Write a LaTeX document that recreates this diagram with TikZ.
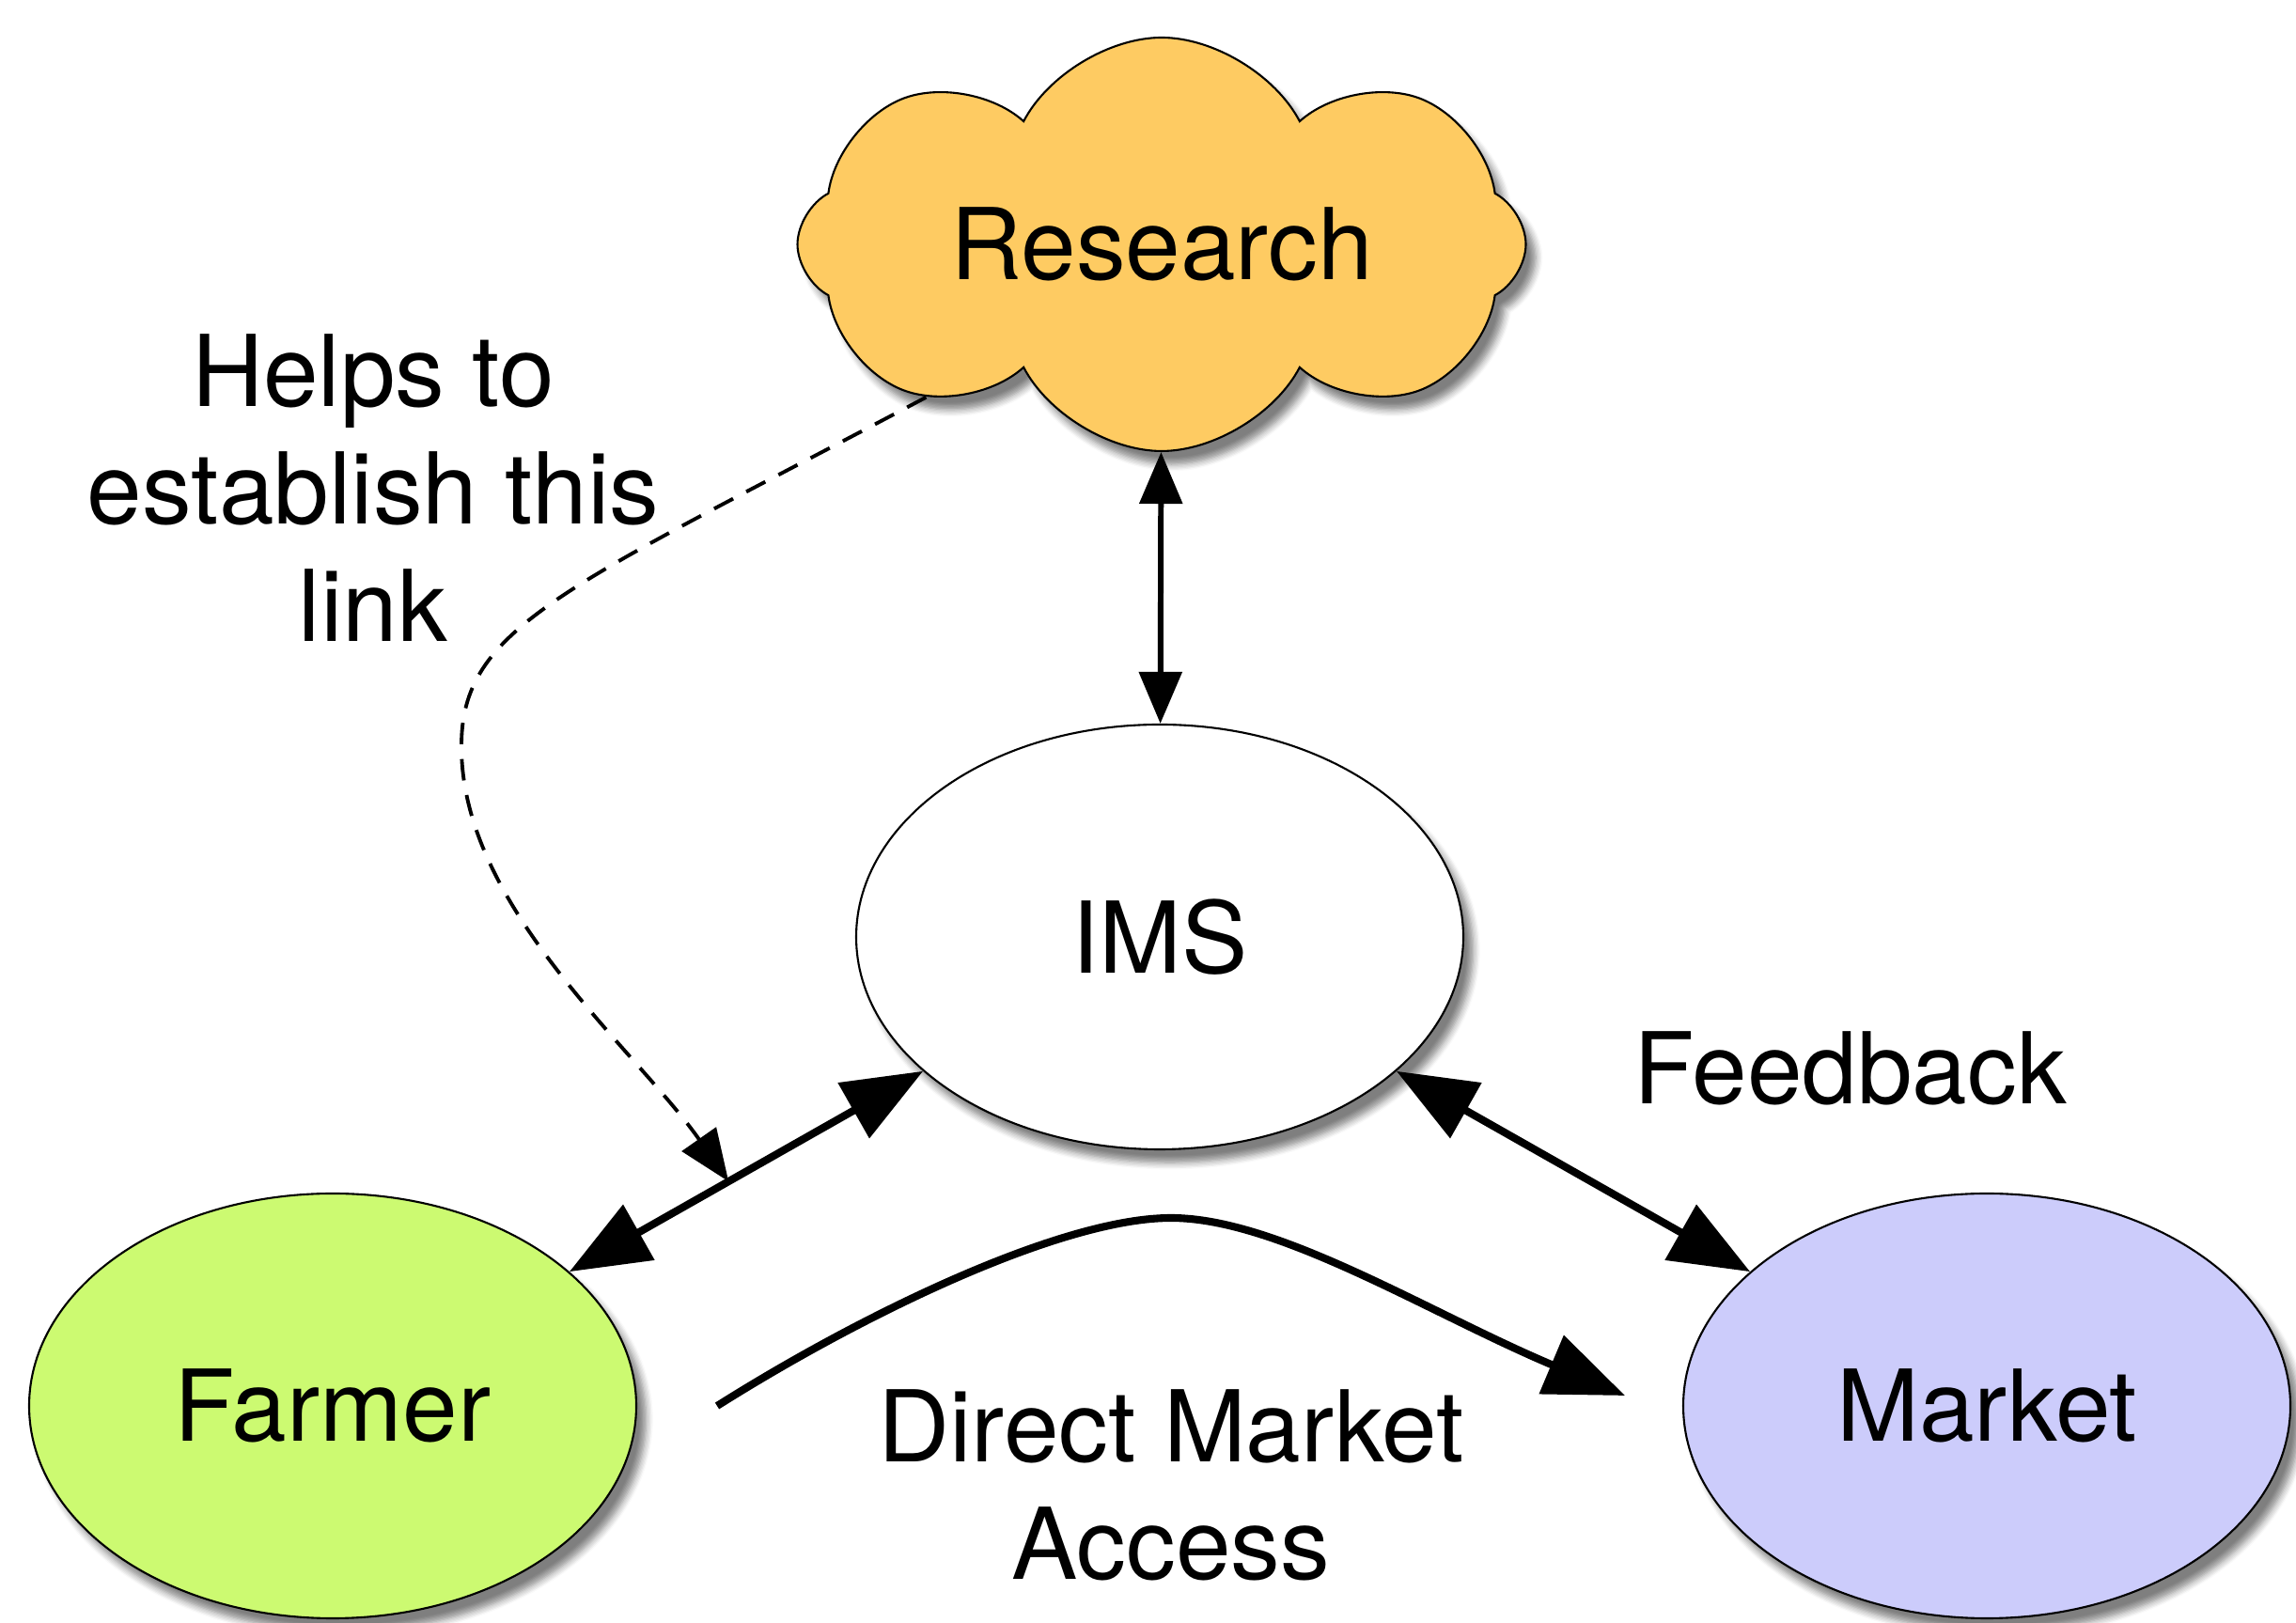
\documentclass[tikz,border=0pt]{standalone}
\usepackage{fontspec}
\setmainfont{TeX Gyre Heros}
\usetikzlibrary{shapes.geometric, shapes.symbols, arrows.meta, shadows.blur}

\definecolor{researchorange}{RGB}{254,203,98}
\definecolor{farmergreen}{RGB}{204,250,113}
\definecolor{marketblue}{RGB}{204,204,251}

\begin{document}
\begin{tikzpicture}[
    every node/.style = {font=\fontsize{30}{35.5}\selectfont},
    softshadow/.style = {blur shadow={shadow xshift=3pt, shadow yshift=-4pt, shadow blur steps=6, shadow opacity=50}},
    actor/.style = {ellipse, draw, line width=0.6pt, minimum width=6.46cm, minimum height=4.52cm, softshadow},
    bigtip/.style = {{Triangle[length=0.85cm, width=0.66cm]}-{Triangle[length=0.85cm, width=0.66cm]}},
    big/.style = {line width=2.3pt},
    smalltip/.style = {{Triangle[length=0.55cm, width=0.45cm]}-{Triangle[length=0.55cm, width=0.45cm]}},
    small/.style = {line width=1.7pt},
    hint/.style = {line width=1.1pt, dash pattern=on 6.5pt off 4.5pt, -{Triangle[length=0.55cm, width=0.44cm]}}
  ]
  \useasboundingbox (0,0) rectangle (24.43,17.27);

  % the four parties
  \node (research) at (12.36,14.67) [cloud, cloud puffs=8, cloud puff arc=125, cloud ignores aspect, draw, line width=0.6pt,
        fill=researchorange, minimum width=7.75cm, minimum height=4.4cm, softshadow] {Research};
  \node (ims)    at (12.34,7.30) [actor, fill=white] {IMS};
  \node (farmer) at (3.54,2.31)  [actor, fill=farmergreen] {Farmer};
  \node (market) at (21.14,2.31) [actor, fill=marketblue] {Market};

  % labels
  \node (helps)    at (3.97,12.08) [align=center] {Helps to\\establish this\\link};
  \node (feedback) at (19.69,5.90) {Feedback};
  \node (direct)   at (12.46,1.47) [align=center] {Direct Market\\Access};

  % links
  \draw [small, smalltip] (research) -- (ims);
  \draw [big, bigtip] (farmer) -- (ims);
  \draw [big, bigtip] (ims) -- (market);
  \path (farmer) -- (ims) coordinate[pos=0.45] (linkpt);

  \coordinate (dmastart) at (7.63,2.31);
  \coordinate (dmatop)   at (12.46,4.31);
  \coordinate (dmaend)   at (17.29,2.42);
  \draw [big, -{Triangle[length=0.85cm, width=0.66cm]}] (dmastart)
        .. controls (9.2,3.3) and (11.3,4.31) .. (dmatop)
        .. controls (13.6,4.31) and (15.2,3.3) .. (dmaend);

  \coordinate (bend) at (4.91,9.32);
  \draw [hint] (research.213) .. controls (6.0,11.0) and (4.9,10.6) .. (bend)
        to[out=-90, in=125, looseness=0.8] (linkpt);
\end{tikzpicture}
\end{document}
